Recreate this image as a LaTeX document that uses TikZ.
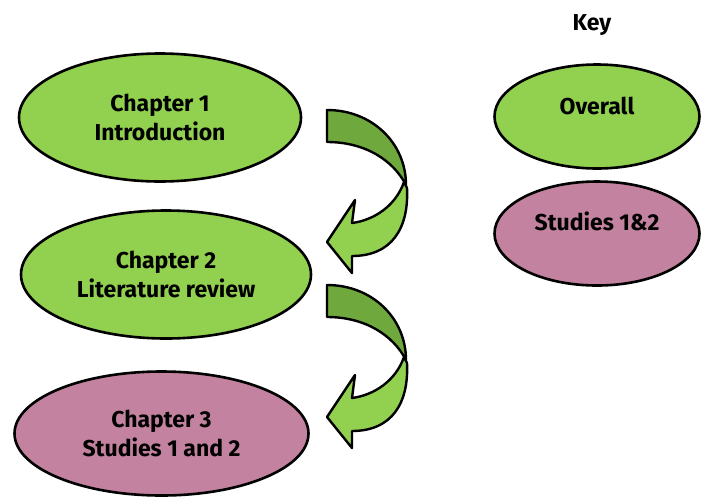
\documentclass[tikz,border=0pt]{standalone}
\usepackage{fontspec}
\setmainfont{Fira Sans}
\usetikzlibrary{shapes.geometric}
\definecolor{lightgreen}{HTML}{92D050}
\definecolor{darkgreen}{HTML}{6FA83C}
\definecolor{studypink}{HTML}{C3829F}
\tikzset{
    chapter/.style = {draw, ellipse, line width=2.6pt, inner sep=0pt,
        align=center, font=\bfseries\fontsize{23}{29}\selectfont},
    overall/.style = {chapter, fill=lightgreen},
    study/.style = {chapter, fill=studypink},
    keytext/.style = {font=\bfseries\fontsize{23}{29}\selectfont},
    back/.style = {draw, line width=2.4pt, line join=round, fill=darkgreen},
    front/.style = {draw, line width=2.4pt, line join=round, fill=lightgreen}
}
% curved block arrow, #1 = top left corner of its band
\newcommand{\bendarrow}[1]{
    \path[back, shift={(#1)}] (0,0) .. controls (45,0) and (79,33) .. (79,75)
        .. controls (66,50) and (38,32) .. (0,32) -- cycle;
    \path[front, shift={(#1)}] (77,72) .. controls (69,95) and (48,110) .. (25,113)
        -- (28,90) -- (0,132) -- (25,163) -- (25,146)
        .. controls (65,146) and (82,118) .. (80,78) -- cycle;
}
\begin{document}
\begin{tikzpicture}[x=1pt, y=-1pt]
        \useasboundingbox (0,0) rectangle (701,499);
        \node [overall, minimum width=282pt, minimum height=128pt] (ch1) at (160,117.5) {Chapter 1\\Introduction};
        \node [overall, below of=ch1, node distance=157pt, xshift=6pt, minimum width=290pt, minimum height=128pt] (ch2) {Chapter 2\\Literature review};
        \node [study, below of=ch2, node distance=159pt, xshift=-4.5pt, minimum width=294pt, minimum height=124pt] (ch3) {Chapter 3\\Studies 1 and 2};
        \coordinate (arr1) at (327,110);
        \coordinate (arr2) at (327,285);
        \bendarrow{arr1}
        \bendarrow{arr2}
        \node [keytext] (key) at (592,25) {Key};
        \node [overall, minimum width=205pt, minimum height=104pt, label={[keytext, yshift=11pt]center:Overall}] (keyov) at (597,116.5) {};
        \node [study, below of=keyov, node distance=117pt, minimum width=205pt, minimum height=104pt, label={[keytext, yshift=12pt]center:Studies 1\&2}] (keyst) {};
\end{tikzpicture}
\end{document}
